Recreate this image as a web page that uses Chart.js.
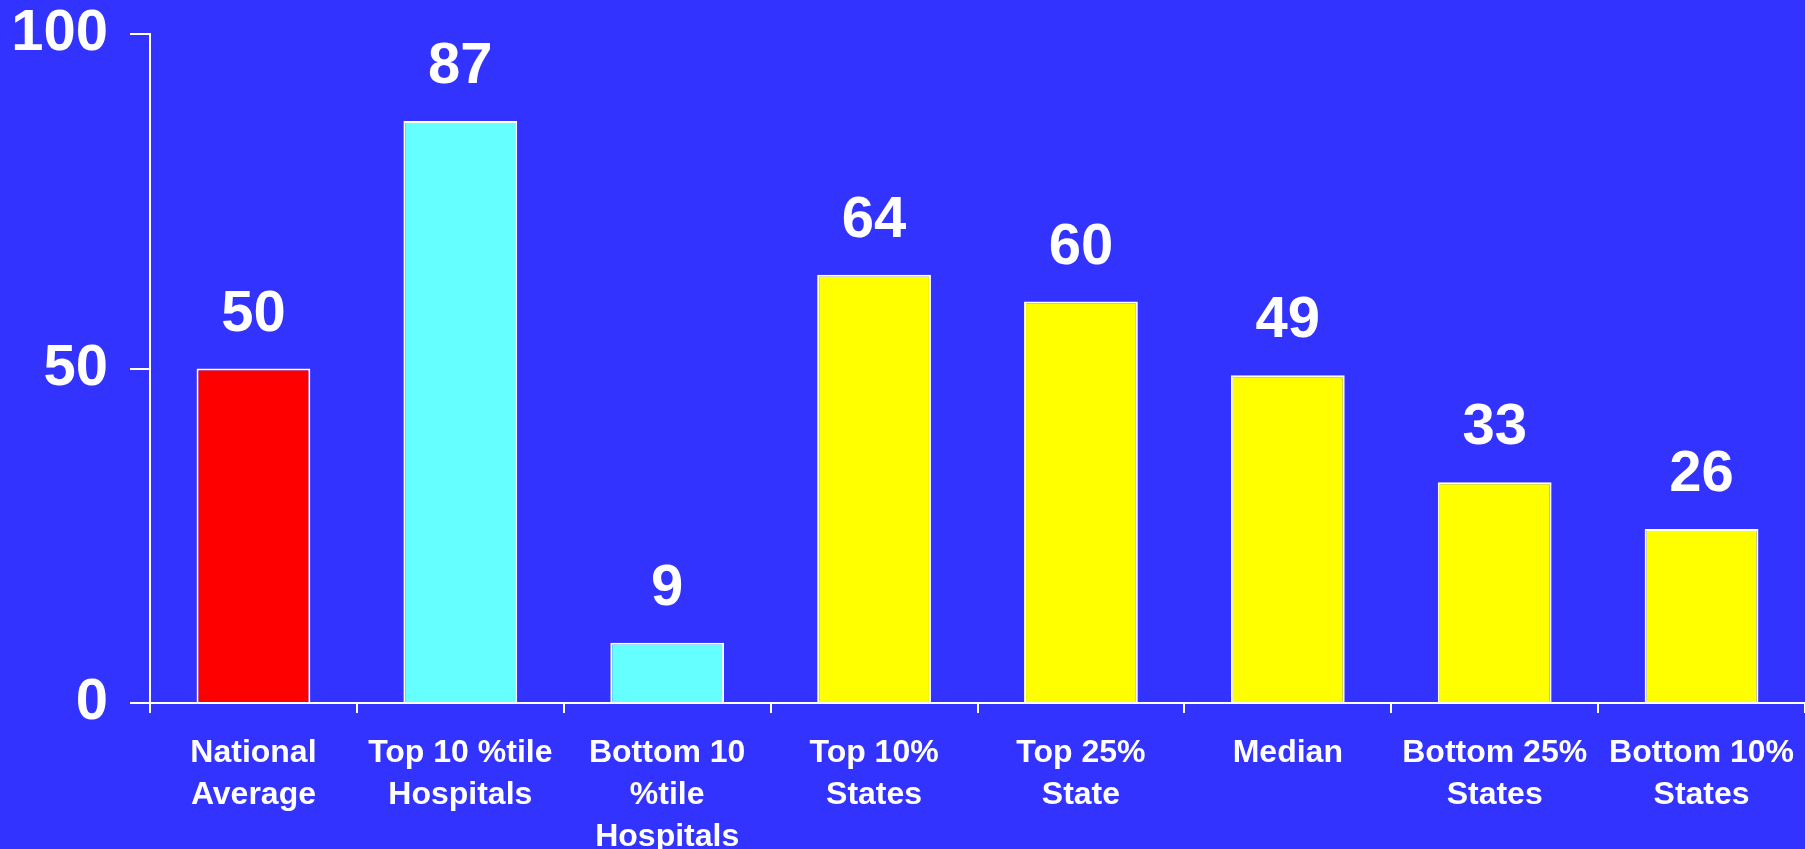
<!DOCTYPE html>
<html>
<head>
<meta charset="utf-8">
<script src="https://cdn.jsdelivr.net/npm/chart.js@4"></script>
<style>
  html, body { margin: 0; padding: 0; background: #3333ff; }
  #wrap { width: 1805px; height: 849px; }
</style>
</head>
<body>
<div id="wrap"><canvas id="myCanvas" width="1805" height="849"></canvas></div>
<script>
// categories and values
var labels = [
    ['National', 'Average'],
    ['Top 10 %tile', 'Hospitals'],
    ['Bottom 10', '%tile', 'Hospitals'],
    ['Top 10%', 'States'],
    ['Top 25%', 'State'],
    'Median',
    ['Bottom 25%', 'States'],
    ['Bottom 10%', 'States']
]
var values = [50, 87, 9, 64, 60, 49, 33, 26]
var barColors = ['#ff0000', '#66ffff', '#66ffff', '#ffff00', '#ffff00', '#ffff00', '#ffff00', '#ffff00']
var yTicks = [0, 50, 100]

var FONT = '"Liberation Sans", Arial, sans-serif'

// number above each bar
var valueLabels = {
    id: 'valueLabels',
    afterDatasetsDraw(chart) {
        let ctx = chart.ctx
        let meta = chart.getDatasetMeta(0)
        ctx.save()
        ctx.fillStyle = '#ffffff'
        ctx.font = 'bold 58px ' + FONT
        ctx.textAlign = 'center'
        ctx.textBaseline = 'middle'
        meta.data.forEach((bar, i) => {
            ctx.fillText(String(values[i]), bar.x, bar.y - 54)
        })
        ctx.restore()
    }
}

let ctx = document.getElementById('myCanvas').getContext('2d')

var myChart = new Chart(ctx, {
    type: 'bar',
    data: {
        labels: labels,
        datasets: [{
            data: values,
            backgroundColor: barColors,
            borderColor: '#ffffff',
            borderWidth: 2,
            barPercentage: 0.55,
            categoryPercentage: 1.0
        }]
    },
    options: {
        responsive: false,
        animation: false,
        layout: { padding: { top: 34, left: 0, right: 0, bottom: 0 } },
        plugins: {
            legend: { display: false },
            tooltip: { enabled: false }
        },
        scales: {
            x: {
                offset: true,
                grid: {
                    offset: true,
                    drawOnChartArea: false,
                    drawTicks: true,
                    tickLength: 10,
                    color: '#ffffff',
                    lineWidth: 2
                },
                border: { color: '#ffffff', width: 2 },
                ticks: {
                    color: '#ffffff',
                    font: { family: FONT, size: 32, weight: 'bold', lineHeight: 1.31 },
                    padding: 19,
                    maxRotation: 0,
                    autoSkip: false
                },
                afterFit(scale) {
                    scale.height = 146
                    scale.paddingLeft = 0
                    scale.paddingRight = 0
                }
            },
            y: {
                min: 0,
                max: 100,
                afterBuildTicks(scale) { scale.ticks = yTicks.map(v => ({ value: v })) },
                grid: {
                    drawOnChartArea: false,
                    drawTicks: true,
                    tickLength: 20,
                    color: '#ffffff',
                    lineWidth: 2
                },
                border: { color: '#ffffff', width: 2 },
                ticks: {
                    color: '#ffffff',
                    font: { family: FONT, size: 58, weight: 'bold' },
                    padding: 22
                },
                afterFit(scale) {
                    scale.width = 150
                    scale.paddingTop = 0
                    scale.paddingBottom = 0
                }
            }
        }
    },
    plugins: [valueLabels]
})
</script>
</body>
</html>
